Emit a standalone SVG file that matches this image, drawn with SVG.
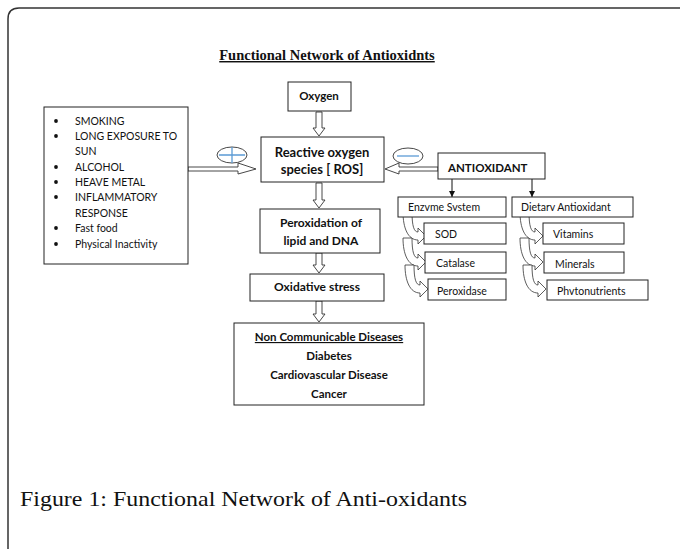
<svg xmlns="http://www.w3.org/2000/svg" width="680" height="549" viewBox="0 0 680 549">
<style>
.box{fill:#fff;stroke:#222;stroke-width:1}
.t{font-family:Lato,"Liberation Sans",sans-serif;fill:#111}
.b{font-weight:bold}
.hollow{fill:#fff;stroke:#333;stroke-width:0.9}
.ell{fill:#fff;stroke:#333;stroke-width:0.9}
.sign{stroke:#5b9bd5;stroke-width:1.3;fill:none}
.curv{fill:#fff;stroke:#333;stroke-width:0.8}
</style>
<defs>
<path id="ca" d="M0,0 L9,0 C9,14 11,20 15,20 L15,16 L23,24 L15,32 L15,28 C5,28 0,16 0,0 Z"/>
<marker id="ah" viewBox="0 0 10 10" refX="10" refY="5" markerWidth="6" markerHeight="6" orient="auto" markerUnits="userSpaceOnUse"><path d="M0,0 L10,5 L0,10 Z" fill="#111"/></marker>
</defs>
<rect width="680" height="549" fill="#fff"/>
<path d="M8,549 L8,19 Q8,8 19,8 L680,8" fill="none" stroke="#333" stroke-width="1.5"/>
<text x="327" y="60" text-anchor="middle" font-family="Liberation Serif,serif" font-weight="bold" font-size="14.5" fill="#111" text-decoration="underline">Functional Network of Antioxidnts</text>

<g id="connectors">
<path class="hollow" d="M316,112 L322,112 L322,128 L325,128 L319,136 L313,128 L316,128 Z"/>
<path class="hollow" d="M316,183 L322,183 L322,200 L325,200 L319,208 L313,200 L316,200 Z"/>
<path class="hollow" d="M316,253 L322,253 L322,265 L325,265 L319,273 L313,265 L316,265 Z"/>
<path class="hollow" d="M316,301 L322,301 L322,314 L325,314 L319,322 L313,314 L316,314 Z"/>
<path class="hollow" d="M188,167 L238,167 L238,163 L256,169 L238,174 L238,171 L188,171 Z"/>
<path class="hollow" d="M438,167 L399,167 L399,163 L385,169 L399,174 L399,171 L438,171 Z"/>
<line x1="452" y1="179" x2="452" y2="197" stroke="#111" stroke-width="1" marker-end="url(#ah)"/>
<line x1="532" y1="179" x2="532" y2="197" stroke="#111" stroke-width="1" marker-end="url(#ah)"/>
<use href="#ca" class="curv" transform="translate(403,212)"/>
<use href="#ca" class="curv" transform="translate(403,238)"/>
<use href="#ca" class="curv" transform="translate(405,265)"/>
<use href="#ca" class="curv" transform="translate(520,212)"/>
<use href="#ca" class="curv" transform="translate(520,238)"/>
<use href="#ca" class="curv" transform="translate(523,265)"/>
</g>

<g id="plus">
<ellipse class="ell" cx="232" cy="155" rx="15" ry="8"/>
<path class="sign" d="M219,155 L245,155 M232,147 L232,163"/>
</g>
<g id="minus">
<ellipse class="ell" cx="408" cy="156" rx="15" ry="8"/>
<path class="sign" d="M397,156 L419,156"/>
</g>

<g id="factors">
<rect class="box" x="44" y="107" width="144" height="157"/>
<g fill="#111">
<circle cx="56" cy="121" r="1.9"/><circle cx="56" cy="136" r="1.9"/><circle cx="56" cy="167" r="1.9"/><circle cx="56" cy="182" r="1.9"/><circle cx="56" cy="197" r="1.9"/><circle cx="56" cy="228" r="1.9"/><circle cx="56" cy="244" r="1.9"/>
</g>
<g class="t" font-size="10.5">
<text x="75" y="125">SMOKING</text>
<text x="75" y="140">LONG EXPOSURE TO</text>
<text x="75" y="155">SUN</text>
<text x="75" y="171">ALCOHOL</text>
<text x="75" y="186">HEAVE METAL</text>
<text x="75" y="201">INFLAMMATORY</text>
<text x="75" y="217">RESPONSE</text>
<text x="75" y="232">Fast food</text>
<text x="75" y="248">Physical Inactivity</text>
</g>
</g>

<g id="oxygen">
<rect class="box" x="288" y="82" width="63" height="29"/>
<text class="t b" x="319" y="100" text-anchor="middle" font-size="11.5">Oxygen</text>
</g>
<g id="ros">
<rect class="box" x="261" y="137" width="123" height="45"/>
<text class="t b" x="322" y="157" text-anchor="middle" font-size="13">Reactive oxygen</text>
<text class="t b" x="322" y="174" text-anchor="middle" font-size="13">species [ ROS]</text>
</g>
<g id="peroxidation">
<rect class="box" x="260" y="209" width="120" height="44"/>
<text class="t b" x="321" y="227" text-anchor="middle" font-size="12">Peroxidation of</text>
<text class="t b" x="321" y="245" text-anchor="middle" font-size="12">lipid and DNA</text>
</g>
<g id="oxidative">
<rect class="box" x="250" y="274" width="134" height="27"/>
<text class="t b" x="317" y="291" text-anchor="middle" font-size="12">Oxidative stress</text>
</g>
<g id="ncd">
<rect class="box" x="234" y="323" width="190" height="82"/>
<text class="t b" x="329" y="341" text-anchor="middle" font-size="11.5" text-decoration="underline">Non Communicable Diseases</text>
<text class="t b" x="329" y="360" text-anchor="middle" font-size="11.5">Diabetes</text>
<text class="t b" x="329" y="379" text-anchor="middle" font-size="11.5">Cardiovascular Disease</text>
<text class="t b" x="329" y="398" text-anchor="middle" font-size="11.5">Cancer</text>
</g>
<g id="antioxidant">
<rect class="box" x="438" y="153" width="107" height="26"/>
<text class="t b" x="448" y="172" font-size="11.5">ANTIOXIDANT</text>
</g>
<g id="enzyme">
<rect class="box" x="398" y="197" width="108" height="20"/>
<text class="t" x="408" y="211" font-size="10.5">Enzvme Svstem</text>
</g>
<g id="sod">
<rect class="box" x="424" y="223" width="82" height="21"/>
<text class="t" x="435" y="238" font-size="10.5">SOD</text>
</g>
<g id="catalase">
<rect class="box" x="425" y="252" width="81" height="21"/>
<text class="t" x="436" y="267" font-size="10.5">Catalase</text>
</g>
<g id="peroxidase">
<rect class="box" x="428" y="279" width="78" height="21"/>
<text class="t" x="437" y="295" font-size="10.5">Peroxidase</text>
</g>
<g id="dietary">
<rect class="box" x="512" y="197" width="121" height="20"/>
<text class="t" x="521" y="211" font-size="10.5">Dietarv Antioxidant</text>
</g>
<g id="vitamins">
<rect class="box" x="543" y="223" width="81" height="21"/>
<text class="t" x="553" y="238" font-size="10.5">Vitamins</text>
</g>
<g id="minerals">
<rect class="box" x="544" y="252" width="80" height="21"/>
<text class="t" x="555" y="268" font-size="10.5">Minerals</text>
</g>
<g id="phytonutrients">
<rect class="box" x="547" y="280" width="101" height="20"/>
<text class="t" x="557" y="295" font-size="10.5">Phvtonutrients</text>
</g>

<text x="20" y="506" font-family="Liberation Serif,serif" font-size="21" fill="#111" textLength="447" lengthAdjust="spacingAndGlyphs">Figure 1: Functional Network of Anti-oxidants</text>
</svg>
